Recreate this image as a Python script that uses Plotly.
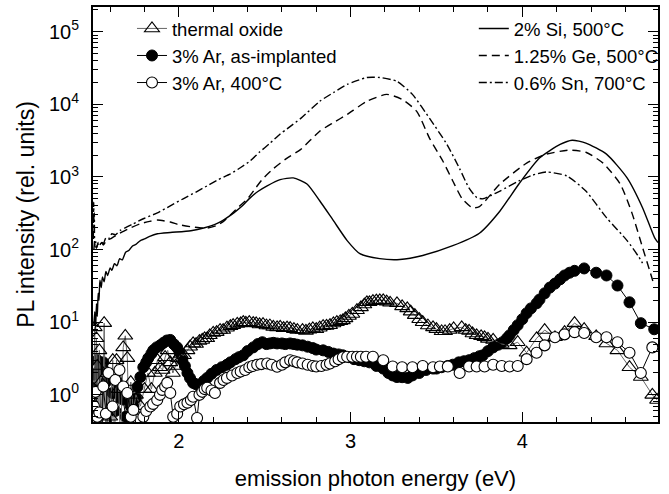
import plotly.graph_objects as go

FONT = "Liberation Sans, Arial, Helvetica, sans-serif"

# ---- continuous spectra: emission photon energy (eV) vs PL intensity ----
si_e = [1.505, 1.51, 1.515, 1.52, 1.525, 1.53, 1.535, 1.54, 1.548, 1.555, 1.565, 1.575,
        1.585, 1.60, 1.61, 1.625, 1.64, 1.655, 1.67, 1.69, 1.71, 1.73, 1.75, 1.776, 1.80,
        1.83, 1.875, 1.95, 2.07, 2.15, 2.22, 2.27, 2.32, 2.37, 2.415, 2.46, 2.514, 2.59,
        2.666, 2.746, 2.82, 2.90, 2.98, 3.054, 3.17, 3.287, 3.42, 3.595, 3.75, 3.87, 3.98,
        4.10, 4.22, 4.29, 4.37, 4.49, 4.61, 4.70, 4.77, 4.79]
si_i = [9, 14, 8, 18, 12, 25, 20, 38, 30, 42, 36, 50,
        44, 56, 52, 64, 60, 75, 72, 92, 98, 112, 118, 133, 140,
        152, 165, 172, 182, 200, 227, 265, 320, 400, 515, 630, 755, 920,
        970, 800, 470, 250, 133, 88, 75, 73, 83, 113, 168, 340, 800,
        1820, 2800, 3200, 2930, 2060, 970, 377, 146, 125]

ge_e = [1.505, 1.51, 1.52, 1.53, 1.54, 1.55, 1.56, 1.58, 1.60, 1.62, 1.65, 1.68, 1.72,
        1.776, 1.83, 1.875, 1.95, 2.00, 2.067, 2.12, 2.165, 2.22, 2.26, 2.30, 2.35, 2.40,
        2.45, 2.49, 2.55, 2.63, 2.71, 2.82, 2.90, 2.98, 3.095, 3.21, 3.30, 3.385, 3.46,
        3.537, 3.595, 3.65, 3.71, 3.75, 3.87, 4.025, 4.14, 4.275, 4.37, 4.47, 4.57, 4.64,
        4.70, 4.76]
ge_i = [100, 130, 105, 120, 110, 125, 115, 135, 140, 150, 165, 180, 200,
        227, 245, 255, 240, 220, 207, 200, 198, 215, 245, 300, 390, 500,
        720, 950, 1300, 1820, 2400, 4260, 5600, 7250, 11000, 13700, 11700, 8000, 3400,
        1660, 880, 500, 376, 390, 800, 1550, 2060, 2340, 2190, 1550, 800, 310,
        107, 37]

sn_e = [1.502, 1.504, 1.506, 1.508, 1.51, 1.515, 1.52, 1.53, 1.54, 1.55, 1.56, 1.575,
        1.59, 1.61, 1.63, 1.66, 1.69, 1.735, 1.80, 1.875, 1.95, 2.025, 2.10, 2.165, 2.23,
        2.30, 2.36, 2.415, 2.47, 2.53, 2.59, 2.63, 2.71, 2.82, 2.90, 2.98, 3.095, 3.17,
        3.27, 3.36, 3.46, 3.56, 3.635, 3.69, 3.735, 3.77, 3.82, 3.87, 3.98, 4.06, 4.14,
        4.26, 4.37, 4.49, 4.61, 4.68, 4.70]
sn_i = [140, 450, 180, 320, 110, 130, 105, 125, 115, 130, 120, 145,
        140, 165, 160, 185, 200, 227, 270, 320, 400, 500, 620, 755, 920,
        1100, 1350, 1660, 2200, 2900, 3900, 4600, 6400, 11000, 14500, 18800, 23400, 23400,
        20700, 13700, 6400, 2830, 1300, 700, 520, 500, 560, 640, 880, 1060, 1170,
        1030, 640, 275, 133, 78, 65]

# ---- sampled spectra (symbols) ----
ox_e = [1.505, 1.51, 1.515, 1.52, 1.525, 1.53, 1.537, 1.545, 1.555, 1.565, 1.575, 1.585,
        1.60, 1.615, 1.625, 1.637, 1.65, 1.66, 1.676, 1.688, 1.70, 1.71, 1.72, 1.735,
        1.75, 1.776, 1.80, 1.82, 1.84, 1.86, 1.875, 1.89, 1.905, 1.92, 1.935, 1.95, 1.965,
        1.98, 1.995, 2.01, 2.03, 2.05, 2.065, 2.083, 2.10, 2.12, 2.136, 2.15, 2.165, 2.18,
        2.20, 2.22, 2.24, 2.258, 2.28, 2.30, 2.316, 2.34, 2.36, 2.375, 2.39, 2.41, 2.433,
        2.45, 2.47, 2.49, 2.51, 2.53, 2.55, 2.572, 2.59, 2.61, 2.63, 2.648, 2.67, 2.69,
        2.72, 2.74, 2.76, 2.78, 2.80, 2.82, 2.84, 2.86, 2.88, 2.90, 2.92, 2.94, 2.955,
        2.97, 2.99, 3.01, 3.037, 3.06, 3.08, 3.095, 3.11, 3.13, 3.15, 3.17, 3.19, 3.21,
        3.23, 3.27, 3.30, 3.33, 3.35, 3.374, 3.40, 3.42, 3.45, 3.48, 3.50, 3.53, 3.55,
        3.577, 3.60, 3.647, 3.67, 3.69, 3.71, 3.734, 3.76, 3.78, 3.80, 3.83, 3.88, 3.926,
        3.973, 4.025, 4.083, 4.13, 4.19, 4.246, 4.304, 4.36, 4.43, 4.49, 4.554, 4.624,
        4.69, 4.757, 4.785]
ox_i = [1.2, 8.5, 0.3, 6.0, 2.5, 0.2, 4.1, 1.5, 0.3, 9.7, 0.2, 2.0,
        0.5, 3.0, 0.2, 3.0, 1.2, 0.2, 4.5, 6.5, 3.2, 0.3, 1.5, 0.6,
        1.0, 0.7, 1.2, 2.0, 1.2, 2.0, 3.0, 2.4, 2.2, 3.3, 4.1, 2.8, 2.0,
        2.5, 3.2, 3.6, 3.5, 4.1, 4.6, 5.1, 5.0, 5.5, 5.7, 6.0, 6.0, 6.6,
        7.1, 7.3, 7.8, 7.8, 8.4, 8.8, 9.1, 9.5, 9.6, 10.0, 9.8, 10.0, 9.7,
        9.6, 9.3, 9.4, 9.0, 9.0, 8.6, 8.5, 8.6, 8.3, 8.4, 8.3, 8.0, 7.8,
        7.8, 7.6, 7.9, 8.2, 8.0, 8.4, 8.8, 8.9, 9.1, 9.6, 10.0, 10.3, 10.6,
        11.3, 12.2, 13.0, 14.6, 16.0, 17.5, 18.8, 18.8, 19.5, 19.8, 20.0, 20.0, 19.2,
        18.5, 18.2, 16.5, 15.5, 14.0, 12.5, 11.0, 10.0, 9.0, 8.5, 8.0, 7.5, 7.5,
        7.8, 8.2, 8.5, 7.8, 7.6, 7.0, 6.6, 6.4, 6.2, 5.9, 5.7, 5.0, 4.8,
        5.3, 3.8, 6.0, 7.8, 6.2, 7.3, 9.7, 8.0, 6.4, 5.1, 4.1, 2.4,
        1.76, 1.0, 0.85]

ai_e = [1.505, 1.515, 1.525, 1.537, 1.548, 1.56, 1.575, 1.59, 1.614, 1.63, 1.645, 1.66,
        1.676, 1.69, 1.70, 1.72, 1.735, 1.75, 1.759, 1.776, 1.793, 1.81, 1.822, 1.84,
        1.851, 1.87, 1.891, 1.91, 1.93, 1.95, 1.97, 1.99, 2.005, 2.02, 2.035, 2.05, 2.065,
        2.083, 2.10, 2.124, 2.145, 2.165, 2.19, 2.22, 2.25, 2.28, 2.30, 2.33, 2.35, 2.375,
        2.40, 2.433, 2.46, 2.486, 2.51, 2.53, 2.55, 2.572, 2.60, 2.62, 2.648, 2.67, 2.69,
        2.72, 2.75, 2.78, 2.80, 2.84, 2.87, 2.90, 2.93, 2.955, 2.99, 3.02, 3.05, 3.08,
        3.11, 3.15, 3.19, 3.22, 3.245, 3.27, 3.30, 3.333, 3.36, 3.40, 3.44, 3.48, 3.50,
        3.53, 3.566, 3.595, 3.63, 3.66, 3.69, 3.72, 3.75, 3.77, 3.80, 3.83, 3.86, 3.885,
        3.91, 3.926, 3.95, 3.973, 4.00, 4.025, 4.05, 4.083, 4.10, 4.13, 4.16, 4.19, 4.22,
        4.246, 4.275, 4.304, 4.36, 4.43, 4.49, 4.554, 4.624, 4.69, 4.768]
ai_i = [1.9, 0.3, 3.0, 2.2, 0.2, 2.8, 1.5, 0.3, 1.06, 0.6, 1.4, 0.9,
        0.86, 0.5, 1.0, 0.7, 0.69, 0.9, 1.29, 1.76, 2.4, 2.8, 3.2, 3.7,
        4.1, 4.5, 4.8, 5.2, 5.6, 5.7, 5.0, 4.5, 3.8, 3.0, 2.5, 2.0, 1.7,
        1.46, 1.4, 1.37, 1.55, 1.71, 1.95, 2.2, 2.4, 2.6, 2.8, 3.1, 3.3, 3.5,
        4.0, 4.5, 5.0, 5.3, 5.0, 5.1, 5.2, 5.1, 5.1, 5.0, 5.1, 5.0, 4.9,
        4.8, 4.6, 4.4, 4.2, 4.1, 3.9, 3.7, 3.6, 3.5, 3.3, 3.1, 3.0, 2.9,
        2.8, 2.5, 2.3, 2.0, 1.85, 1.76, 1.75, 1.71, 1.85, 2.0, 2.2, 2.3, 2.3,
        2.4, 2.5, 2.6, 2.8, 2.9, 3.0, 3.2, 3.4, 3.5, 4.0, 4.5, 4.9, 5.3,
        6.0, 6.6, 7.8, 9.1, 11.0, 13.3, 15.5, 18.2, 20.5, 25.0, 30.0, 34.0, 39.0,
        44.0, 48.0, 51.0, 55.0, 48.0, 44.0, 32.0, 18.8, 9.7, 8.0]

an_e = [1.505, 1.515, 1.525, 1.537, 1.55, 1.56, 1.575, 1.59, 1.60, 1.614, 1.63, 1.654,
        1.676, 1.70, 1.72, 1.735, 1.76, 1.793, 1.81, 1.834, 1.85, 1.874, 1.89, 1.903,
        1.92, 1.932, 1.95, 1.967, 1.99, 2.008, 2.03, 2.05, 2.07, 2.083, 2.106, 2.12, 2.136,
        2.15, 2.165, 2.19, 2.21, 2.24, 2.26, 2.28, 2.31, 2.34, 2.36, 2.386, 2.41, 2.43,
        2.456, 2.48, 2.514, 2.54, 2.572, 2.60, 2.62, 2.648, 2.67, 2.69, 2.72, 2.75, 2.78,
        2.80, 2.83, 2.86, 2.88, 2.91, 2.93, 2.955, 2.98, 3.01, 3.037, 3.06, 3.09, 3.13,
        3.19, 3.245, 3.30, 3.36, 3.42, 3.48, 3.52, 3.566, 3.635, 3.69, 3.734, 3.78, 3.83,
        3.88, 3.926, 3.973, 4.025, 4.083, 4.13, 4.19, 4.246, 4.304, 4.36, 4.43, 4.49,
        4.554, 4.624, 4.69, 4.757]
an_i = [0.7, 1.1, 0.5, 0.57, 0.2, 1.3, 0.55, 2.0, 0.2, 0.69, 1.6, 2.2,
        1.3, 1.06, 0.5, 0.62, 0.3, 0.5, 0.6, 0.69, 0.75, 0.85, 1.0, 1.17,
        1.3, 1.46, 1.06, 0.5, 0.55, 0.69, 0.74, 0.78, 0.85, 0.94, 0.48, 1.0, 1.1,
        1.2, 1.25, 1.15, 1.06, 1.46, 1.6, 1.71, 1.85, 2.0, 2.1, 2.2, 2.4, 2.5,
        2.6, 2.65, 2.7, 2.6, 2.44, 2.6, 2.8, 3.0, 2.9, 2.8, 2.7, 2.6, 2.5,
        2.45, 2.5, 2.6, 2.7, 2.9, 3.1, 3.3, 3.35, 3.35, 3.35, 3.35, 3.35, 3.35,
        3.0, 2.45, 2.4, 2.4, 2.5, 2.4, 2.45, 2.45, 2.0, 2.45, 2.45, 2.45, 2.6,
        2.5, 2.45, 2.5, 3.1, 3.8, 4.8, 6.2, 6.8, 7.3, 7.1, 6.2, 6.2,
        5.3, 3.8, 2.0, 4.5]

# ---- axis labelling ----
y_decades = [1, 10, 100, 1000, 10000, 100000]
y_labels = ["10<sup>%d</sup>" % k for k in range(6)]
y_minor = [m * d for d in [0.1] + y_decades for m in range(2, 10)]
x_major = [2, 3, 4]

fig = go.Figure()

def spectrum(x, y, name, dash):
    fig.add_trace(go.Scatter(
        x=x, y=y, mode="lines", name=name, legend="legend2",
        line=dict(color="black", width=1.4, dash=dash, shape="spline", smoothing=0.6),
    ))

spectrum(si_e, si_i, "2% Si, 500°C", "solid")
spectrum(ge_e, ge_i, "1.25% Ge, 500°C", "8px,5px")
spectrum(sn_e, sn_i, "0.6% Sn, 700°C", "8px,3px,2px,3px")

fig.add_trace(go.Scatter(
    x=ai_e, y=ai_i, mode="lines+markers", name="3% Ar, as-implanted", legendrank=2,
    line=dict(color="black", width=1),
    marker=dict(symbol="circle", size=11, color="black", line=dict(color="black", width=1)),
))
fig.add_trace(go.Scatter(
    x=ox_e, y=ox_i, mode="lines+markers", name="thermal oxide", legendrank=1,
    line=dict(color="#666666", width=1),
    marker=dict(symbol="triangle-up-open", size=13, color="black", line=dict(width=1.1)),
))
fig.add_trace(go.Scatter(
    x=an_e, y=an_i, mode="lines+markers", name="3% Ar, 400°C", legendrank=3,
    line=dict(color="black", width=1),
    marker=dict(symbol="circle", size=11, color="white", line=dict(color="black", width=1.1)),
))

axis_common = dict(
    showline=True, linecolor="black", linewidth=2, mirror="allticks",
    ticks="inside", tickcolor="black", tickwidth=1.3, ticklen=10,
    showgrid=False, zeroline=False,
    tickfont=dict(family=FONT, size=20, color="black"),
)

fig.update_xaxes(
    **axis_common,
    range=[1.5, 4.79], tickmode="array", tickvals=x_major,
    minor=dict(ticks="inside", ticklen=5, tickwidth=1.3, tickcolor="black", dtick=0.2, tick0=0),
    title=dict(text="emission photon energy (eV)", font=dict(family=FONT, size=22, color="black"),
               standoff=20),
)
fig.update_yaxes(
    **axis_common,
    type="log", range=[-0.374, 5.34], tickmode="array", tickvals=y_decades, ticktext=y_labels,
    minor=dict(ticks="inside", ticklen=5, tickwidth=1.1, tickcolor="black", tickmode="array",
               tickvals=y_minor),
    ticklabelstandoff=8,
    title=dict(text="PL intensity (rel. units)", font=dict(family=FONT, size=23, color="black"),
               standoff=8),
)

legend_common = dict(
    bgcolor="rgba(0,0,0,0)", borderwidth=0, xanchor="left", yanchor="top",
    font=dict(family=FONT, size=18.5, color="black"), tracegroupgap=0,
)
fig.update_layout(
    width=669, height=494,
    margin=dict(l=93, r=11, t=5, b=72),
    paper_bgcolor="white", plot_bgcolor="white",
    showlegend=True,
    legend=dict(**legend_common, x=0.069, y=0.993),
    legend2=dict(**legend_common, x=0.674, y=0.993),
)

fig.write_html("out.html")
